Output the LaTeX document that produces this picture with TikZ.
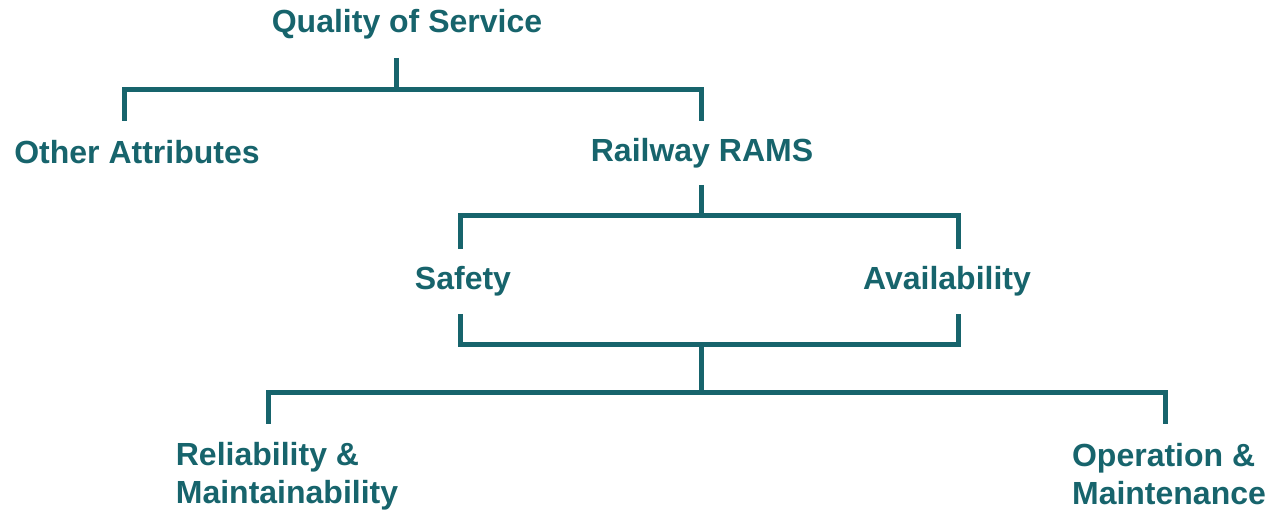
\documentclass[tikz,border=0pt]{standalone}
\usepackage{fontspec}
\setmainfont{Liberation Sans}
\definecolor{teal}{HTML}{17646C}
\begin{document}
\begin{tikzpicture}[x=1pt,y=-1pt,
  lbl/.style={inner sep=0pt, text=teal, font=\bfseries\fontsize{32}{38}\selectfont},
  conn/.style={draw=teal, line width=5pt, line join=miter}]
\useasboundingbox (0,0) rectangle (1270,510);
% labels
\node[lbl] (qos) at (407,24) {Quality of Service};
\node[lbl] (oa) at (137,152) {Other Attributes};
\node[lbl] (rams) at (702,153) {Railway RAMS};
\node[lbl] (safety) at (463,281) {Safety};
\node[lbl] (avail) at (947,281) {Availability};
\node[lbl, align=left] (rm) at (287,476) {Reliability \&\\Maintainability};
\node[lbl, align=left] (om) at (1169,474) {Operation \&\\Maintenance};
% junction coordinates
\coordinate (qosS) at (396,58);
\coordinate (h1) at (396,90);
\coordinate (oaN) at (124,121);
\coordinate (ramsN) at (701,121);
\coordinate (ramsS) at (701,185);
\coordinate (safN) at (460,249);
\coordinate (avN) at (958,249);
\coordinate (safS) at (460,314);
\coordinate (avS) at (958,314);
\coordinate (mid) at (701,345);
\coordinate (rmN) at (268,424);
\coordinate (omN) at (1165,424);
% connectors
\draw[conn] (qosS) -- (h1);
\draw[conn] (oaN) |- (h1) -| (ramsN);
\draw[conn] (ramsS) -- (ramsS|-216,216);
\draw[conn] (safN) |- (701,216) -| (avN);
\draw[conn] (safS) |- (mid) -| (avS);
\draw[conn] (mid) -- (701,393);
\draw[conn] (rmN) |- (701,393) -| (omN);
\end{tikzpicture}
\end{document}
